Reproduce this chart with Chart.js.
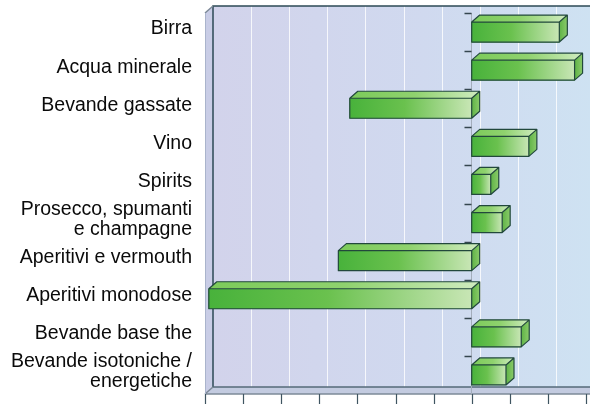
<!DOCTYPE html>
<html>
<head>
<meta charset="utf-8">
<script src="https://cdn.jsdelivr.net/npm/chart.js@4/dist/chart.umd.min.js"></script>
<style>
html,body{margin:0;padding:0;background:#fff;}
#wrap{width:590px;height:405px;position:relative;}
</style>
</head>
<body>
<div id="wrap"><canvas id="c" width="590" height="405"></canvas></div>
<script>
const categories = [
  "Birra",
  "Acqua minerale",
  "Bevande gassate",
  "Vino",
  "Spirits",
  ["Prosecco, spumanti", "e champagne"],
  "Aperitivi e vermouth",
  "Aperitivi monodose",
  "Bevande base the",
  ["Bevande isotoniche /", "energetiche"]
];
const values = [2.3, 2.7, -3.2, 1.5, 0.5, 0.8, -3.5, -6.9, 1.3, 0.9];
const axisMin = -7;
const axisMax = 3;

const DX = 8, DY = -7;

const box3d = {
  id: 'box3d',
  beforeDatasetsDraw(chart) {
    const {ctx, chartArea: a, scales: {x, y}} = chart;
    const L = a.left, R = a.right, T = a.top, B = a.bottom;
    ctx.save();
    // back wall
    const g = ctx.createLinearGradient(L + DX, 0, R + DX, 0);
    g.addColorStop(0, '#d2d3eb');
    g.addColorStop(0.55, '#d0d9ef');
    g.addColorStop(1, '#cee2f2');
    ctx.fillStyle = g;
    ctx.fillRect(L + DX, T + DY, R - L + 10, B - T);
    // left wall
    ctx.fillStyle = '#c9cde6';
    ctx.beginPath();
    ctx.moveTo(L, T); ctx.lineTo(L + DX, T + DY); ctx.lineTo(L + DX, B + DY); ctx.lineTo(L, B);
    ctx.closePath(); ctx.fill();
    // floor
    ctx.fillStyle = '#c3cbe0';
    ctx.beginPath();
    ctx.moveTo(L, B); ctx.lineTo(L + DX, B + DY); ctx.lineTo(R + DX + 10, B + DY); ctx.lineTo(R + 10, B);
    ctx.closePath(); ctx.fill();
    // back grid lines
    ctx.strokeStyle = 'rgba(255,255,255,0.8)';
    ctx.lineWidth = 1;
    for (let v = axisMin + 1; v <= axisMax; v++) {
      const px = Math.round(x.getPixelForValue(v) + DX) + 0.5;
      ctx.beginPath(); ctx.moveTo(px, T + DY); ctx.lineTo(px, B + DY); ctx.stroke();
    }
    // frame edges
    ctx.strokeStyle = '#2d4a55';
    ctx.lineWidth = 1.5;
    ctx.beginPath();
    ctx.moveTo(L + DX, B + DY); ctx.lineTo(L + DX, T + DY); ctx.lineTo(R + DX + 10, T + DY);
    ctx.stroke();
    ctx.strokeStyle = '#556a78';
    ctx.lineWidth = 1.5;
    ctx.beginPath();
    ctx.moveTo(L + DX, B + DY); ctx.lineTo(R + DX + 10, B + DY);
    ctx.stroke();
    ctx.strokeStyle = '#7d8a98';
    ctx.lineWidth = 1.5;
    ctx.beginPath();
    ctx.moveTo(L, B); ctx.lineTo(R + 10, B);
    ctx.moveTo(L, B); ctx.lineTo(L + DX, B + DY);
    ctx.moveTo(L, T); ctx.lineTo(L + DX, T + DY);
    ctx.stroke();
    ctx.strokeStyle = '#aab4cc';
    ctx.lineWidth = 1;
    ctx.beginPath(); ctx.moveTo(L + 0.5, T); ctx.lineTo(L + 0.5, B); ctx.stroke();
    // bottom tick marks
    ctx.strokeStyle = '#3f5561';
    ctx.lineWidth = 1.2;
    for (let v = axisMin; v <= axisMax; v++) {
      const px = Math.round(x.getPixelForValue(v)) + 0.5;
      ctx.beginPath(); ctx.moveTo(px, B); ctx.lineTo(px, B + 10); ctx.stroke();
    }
    // zero axis line + category ticks
    const x0 = Math.round(x.getPixelForValue(0)) - 0.5;
    ctx.strokeStyle = '#a3adbb';
    ctx.lineWidth = 1;
    ctx.beginPath(); ctx.moveTo(x0, T); ctx.lineTo(x0, B); ctx.stroke();
    const step = y.getPixelForValue(1) - y.getPixelForValue(0);
    ctx.strokeStyle = '#34464f';
    ctx.lineWidth = 1.5;
    for (let i = 0; i < categories.length; i++) {
      const yb = Math.round(y.getPixelForValue(i) - step / 2) + 0.5;
      ctx.beginPath(); ctx.moveTo(x0 - 7, yb); ctx.lineTo(x0, yb); ctx.stroke();
    }
    ctx.restore();
  },
  afterDatasetsDraw(chart) {
    const {ctx} = chart;
    const meta = chart.getDatasetMeta(0);
    ctx.save();
    ctx.lineJoin = 'round';
    meta.data.forEach(el => {
      const l = Math.min(el.x, el.base), r = Math.max(el.x, el.base);
      const t = el.y - el.height / 2, b = el.y + el.height / 2;
      // front face
      const gf = ctx.createLinearGradient(l, 0, r, 0);
      gf.addColorStop(0, '#48b23b');
      gf.addColorStop(0.45, '#6ac14e');
      gf.addColorStop(1, '#c8e6b5');
      ctx.fillStyle = gf;
      ctx.fillRect(l, t, r - l, b - t);
      // top face
      const gt = ctx.createLinearGradient(l, 0, r + DX, 0);
      gt.addColorStop(0, '#7ccb5a');
      gt.addColorStop(0.5, '#8fd26e');
      gt.addColorStop(1, '#d0ecc0');
      ctx.fillStyle = gt;
      ctx.beginPath();
      ctx.moveTo(l, t); ctx.lineTo(l + DX, t + DY); ctx.lineTo(r + DX, t + DY); ctx.lineTo(r, t);
      ctx.closePath(); ctx.fill();
      // side face
      const gs = ctx.createLinearGradient(r, 0, r + DX, 0);
      gs.addColorStop(0, '#5fb346');
      gs.addColorStop(1, '#8acb6a');
      ctx.fillStyle = gs;
      ctx.beginPath();
      ctx.moveTo(r, t); ctx.lineTo(r + DX, t + DY); ctx.lineTo(r + DX, b + DY); ctx.lineTo(r, b);
      ctx.closePath(); ctx.fill();
      // outlines
      ctx.strokeStyle = '#22483c';
      ctx.lineWidth = 1.2;
      ctx.beginPath();
      ctx.rect(l, t, r - l, b - t);
      ctx.moveTo(l, t); ctx.lineTo(l + DX, t + DY); ctx.lineTo(r + DX, t + DY); ctx.lineTo(r, t);
      ctx.moveTo(r + DX, t + DY); ctx.lineTo(r + DX, b + DY); ctx.lineTo(r, b);
      ctx.stroke();
    });
    ctx.restore();
  }
};

Chart.defaults.font.family = '"Liberation Sans", Arial, Helvetica, sans-serif';

new Chart(document.getElementById('c'), {
  type: 'bar',
  data: {
    labels: categories,
    datasets: [{
      data: values,
      backgroundColor: '#5cba44',
      borderWidth: 0,
      barThickness: 20
    }]
  },
  options: {
    indexAxis: 'y',
    responsive: false,
    animation: false,
    layout: {padding: {top: 13, right: 4, bottom: 11, left: 0}},
    plugins: {legend: {display: false}, tooltip: {enabled: false}},
    scales: {
      x: {
        display: false,
        min: axisMin,
        max: axisMax,
        ticks: {stepSize: 1}
      },
      y: {
        afterFit(scale) { scale.width = 205; scale.paddingTop = 0; scale.paddingBottom = 0; },
        grid: {display: false, drawTicks: false},
        border: {display: false},
        ticks: {
          autoSkip: false,
          padding: 13,
          labelOffset: -3,
          color: '#0a0a0a',
          font: {size: 19.5, lineHeight: 1.02}
        }
      }
    }
  },
  plugins: [box3d]
});
</script>
</body>
</html>
